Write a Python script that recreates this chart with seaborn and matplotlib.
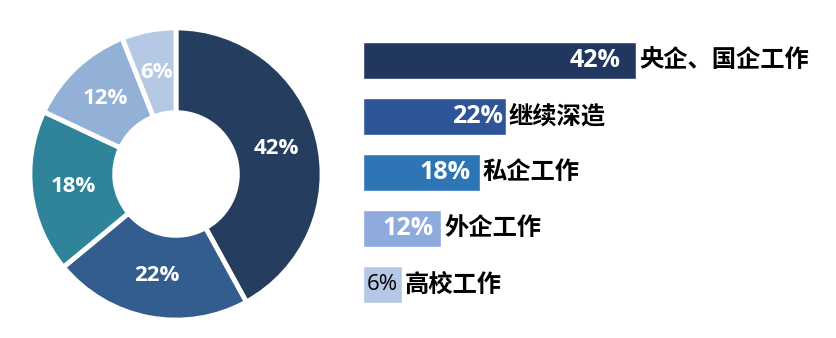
import matplotlib
matplotlib.use("Agg")
import matplotlib.pyplot as plt
import seaborn as sns
import pandas as pd
import numpy as np

sns.set_theme(style="white")
plt.rcParams['font.family'] = ['Open Sans', 'Noto Sans CJK SC', 'DejaVu Sans']

categories = ["央企、国企工作", "继续深造", "私企工作", "外企工作", "高校工作"]
values = [42, 22, 18, 12, 6]
pct_labels = ["42%", "22%", "18%", "12%", "6%"]
pie_colors = ["#253E5F", "#335D8F", "#2F8499", "#93B0D7", "#B5C9E5"]
bar_colors = ["#22375F", "#2E5597", "#2E75B6", "#8FAADC", "#B4C7E7"]
pct_text_colors = ["white", "white", "white", "white", "black"]

W, H = 836, 338
fig = plt.figure(figsize=(W / 100, H / 100), dpi=100)

# Donut
cx, cy, R = 176, 174, 149
ax_pie = fig.add_axes([(cx - R) / W, (H - cy - R) / H, 2 * R / W, 2 * R / H])
wedges, _ = ax_pie.pie(values, colors=pie_colors, startangle=90, counterclock=False,
                       radius=1.0,
                       wedgeprops=dict(width=0.58, edgecolor="white", linewidth=3.5))
ang = 90.0
for v, lab in zip(values, pct_labels):
    mid = ang - v * 3.6 / 2
    ang -= v * 3.6
    r = 0.71
    ax_pie.text(r * np.cos(np.radians(mid)), r * np.sin(np.radians(mid)), lab,
                ha="center", va="center", color="white", fontsize=16, fontweight="bold",
                family=['Open Sans', 'DejaVu Sans'])
ax_pie.set_xlim(-1.02, 1.02)
ax_pie.set_ylim(-1.02, 1.02)
ax_pie.set_aspect("equal")
ax_pie.axis("off")

# Bars
px_per = 6.5
left = 363
top_px, bot_px = 32, 312.5
ax_bar = fig.add_axes([left / W, (H - bot_px) / H, (W - left) / W, (bot_px - top_px) / H])
df = pd.DataFrame({"cat": categories, "val": values})
sns.barplot(data=df, x="val", y="cat", hue="cat", palette=bar_colors, legend=False,
            orient="h", width=0.66, ax=ax_bar, saturation=1)
ax_bar.set_xlim(0, (W - left) / px_per)
ax_bar.set_ylim(4.5, -0.5)
ax_bar.axis("off")

pct_off = [-15, -3, -9, -7, -4]
for i, (v, lab, c) in enumerate(zip(values, pct_labels, pct_text_colors)):
    bold = c == "white"
    ax_bar.annotate(lab, xy=(v, i), xytext=(pct_off[i] * 0.72, 0), textcoords="offset points",
                    ha="right", va="center", color=c,
                    fontsize=18 if bold else 16, fontweight="bold" if bold else "normal",
                    family=['Open Sans', 'DejaVu Sans'])
    ax_bar.annotate(categories[i], xy=(v, i), xytext=(3 * 0.72, 0), textcoords="offset points",
                    ha="left", va="center", color="black", fontsize=17.5, fontweight="bold",
                    family=['Noto Sans CJK SC', 'DejaVu Sans'])

fig.savefig("out.png", dpi=100)
